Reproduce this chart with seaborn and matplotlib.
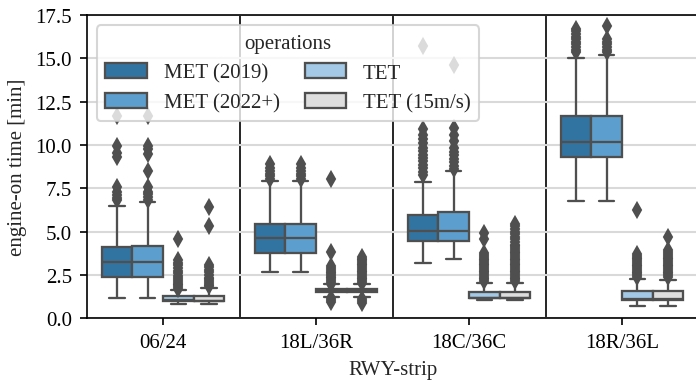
import numpy as np
import pandas as pd
import matplotlib
matplotlib.use("Agg")
import matplotlib.pyplot as plt
import seaborn as sns

# ---------------- data ----------------
strips = ["06/24", "18L/36R", "18C/36C", "18R/36L"]
operations = ["MET (2019)", "MET (2022+)", "TET", "TET (15m/s)"]
colors = ["#3274a1", "#5c9fcf", "#a3c9e6", "#dedede"]

# rows: strips, columns: operations
q1 = [[2.40, 2.40, 1.02, 0.97],
      [3.77, 3.77, 1.50, 1.50],
      [4.48, 4.48, 1.15, 1.15],
      [9.29, 9.29, 1.07, 1.07]]
median = [[3.27, 3.27, 1.05, 1.02],
          [4.62, 4.62, 1.60, 1.60],
          [5.02, 5.02, 1.20, 1.20],
          [10.19, 10.19, 1.10, 1.10]]
q3 = [[4.10, 4.15, 1.27, 1.30],
      [5.44, 5.44, 1.69, 1.69],
      [5.96, 6.11, 1.54, 1.54],
      [11.69, 11.69, 1.59, 1.59]]
whisker_lo = [[1.15, 1.15, 0.83, 0.83],
              [2.69, 2.69, 1.22, 1.22],
              [3.19, 3.40, 1.06, 1.06],
              [6.75, 6.75, 0.69, 0.69]]
whisker_hi = [[6.50, 6.70, 1.63, 1.73],
              [7.90, 7.90, 1.97, 1.97],
              [7.88, 8.50, 2.02, 2.02],
              [15.02, 15.21, 2.27, 2.23]]

outliers_0624 = [
    [6.8, 6.95, 7.1, 7.3, 7.55, 9.3, 9.55, 9.95, 11.65],
    [6.85, 7.0, 7.15, 7.3, 7.55, 8.5, 9.5, 9.75, 9.95, 11.65],
    [1.7, 1.8, 1.9, 2.0, 2.1, 2.2, 2.3, 2.45, 2.6, 2.75, 2.9, 3.05, 3.2, 3.35, 4.6],
    [1.85, 1.95, 2.05, 2.15, 2.25, 2.35, 2.5, 2.65, 2.8, 2.95, 3.1, 5.3, 6.4],
]
outliers_18L = [
    [8.05, 8.2, 8.35, 8.5, 8.7, 8.9],
    [8.05, 8.2, 8.35, 8.5, 8.7, 8.9],
    [0.95, 1.05, 1.15, 2.0, 2.1, 2.2, 2.3, 2.4, 2.5, 2.6, 2.7, 2.8, 2.9, 3.0,
     3.8, 8.05],
    [0.9, 1.0, 1.1, 2.05, 2.15, 2.25, 2.35, 2.45, 2.55, 2.65, 2.75, 2.85, 2.95,
     3.05, 3.15, 3.25, 3.35, 3.45, 3.55],
]
outliers_18C = [
    [8.25, 8.45, 8.65, 8.85, 9.05, 9.25, 9.45, 9.65, 9.85, 10.1,
     10.35, 10.6, 10.9, 15.7],
    [8.6, 8.8, 9.0, 9.2, 9.4, 9.6, 9.8, 10.25, 10.6, 11.0, 14.6],
    [2.15, 2.25, 2.35, 2.45, 2.55, 2.65, 2.75, 2.85, 2.95, 3.05, 3.15, 3.25,
     3.35, 3.45, 3.55, 3.65, 3.75, 4.6, 4.95],
    [2.15, 2.25, 2.35, 2.45, 2.55, 2.65, 2.75, 2.85, 2.95, 3.05, 3.15, 3.25,
     3.35, 3.45, 3.55, 3.65, 3.75, 3.85, 3.95, 4.05, 4.15, 4.25, 4.4, 4.55,
     4.7, 4.85, 5.0, 5.15, 5.3, 5.45],
]
outliers_18R = [
    [15.35, 15.5, 15.65, 15.8, 15.95, 16.1, 16.25, 16.4, 16.55, 16.7],
    [15.35, 15.5, 15.65, 15.8, 15.95, 16.1, 16.85],
    [2.4, 2.5, 2.6, 2.7, 2.8, 2.9, 3.0, 3.1, 3.2, 3.3, 3.4, 3.5, 3.6, 3.7, 6.25],
    [2.4, 2.5, 2.6, 2.7, 2.8, 2.9, 3.0, 3.1, 3.2, 3.3, 3.4, 3.5, 3.6, 3.7,
     3.8, 3.95, 4.67],
]
outliers = [outliers_0624, outliers_18L, outliers_18C, outliers_18R]

# ---------------- build sample table reproducing the summary stats ----------------
REP = 100
rows = []
for i, s in enumerate(strips):
    for j, op in enumerate(operations):
        vals = ([whisker_lo[i][j]] + [q1[i][j]] * REP + [median[i][j]] * REP
                + [q3[i][j]] * REP + [whisker_hi[i][j]] + list(outliers[i][j]))
        rows += [(s, op, v) for v in vals]
df = pd.DataFrame(rows, columns=["RWY-strip", "operations", "engine-on time [min]"])

# ---------------- plotting ----------------
sns.set_style("ticks")
plt.rcParams["font.family"] = ["Liberation Serif", "DejaVu Serif"]
plt.rcParams["font.size"] = 10
plt.rcParams["axes.edgecolor"] = "black"
plt.rcParams["xtick.color"] = "black"
plt.rcParams["ytick.color"] = "black"
plt.rcParams["xtick.major.size"] = 3.5
plt.rcParams["ytick.major.size"] = 3.5
plt.rcParams["xtick.major.width"] = 0.8
plt.rcParams["ytick.major.width"] = 0.8

fig, ax = plt.subplots(figsize=(4.64, 2.5533), dpi=150)
fig.subplots_adjust(left=0.1243, right=1.0036, bottom=0.1663, top=0.9582)

lc = "#4f4f4f"
sns.boxplot(data=df, x="RWY-strip", y="engine-on time [min]", hue="operations",
            order=strips, hue_order=operations, palette=colors, saturation=1,
            width=0.8, gap=0, linewidth=1.1, linecolor=lc, ax=ax,
            flierprops=dict(marker="d", markerfacecolor=lc, markeredgecolor=lc,
                            markersize=5))

ax.set_ylim(0, 17.5)
ax.set_xlim(-0.5, 3.5)
ax.set_yticks(np.arange(0, 17.6, 2.5))
ax.set_yticklabels([f"{v:.1f}" for v in np.arange(0, 17.6, 2.5)])
ax.tick_params(axis="both", length=3.5, width=0.8, labelsize=10)
ax.yaxis.grid(True, color="#d9d9d9", linewidth=1.0)
ax.set_axisbelow(True)
for xv in [0.5, 1.5, 2.5]:
    ax.axvline(xv, color="black", linewidth=0.8, zorder=0.5)
for sp in ax.spines.values():
    sp.set_color("black")
    sp.set_linewidth(0.8)

ax.set_xlabel("RWY-strip")
ax.set_ylabel("engine-on time [min]")

sns.move_legend(ax, "upper left", ncol=2, title="operations", frameon=True,
                columnspacing=1.2, framealpha=0.8)

fig.savefig("out.png", dpi=150)
